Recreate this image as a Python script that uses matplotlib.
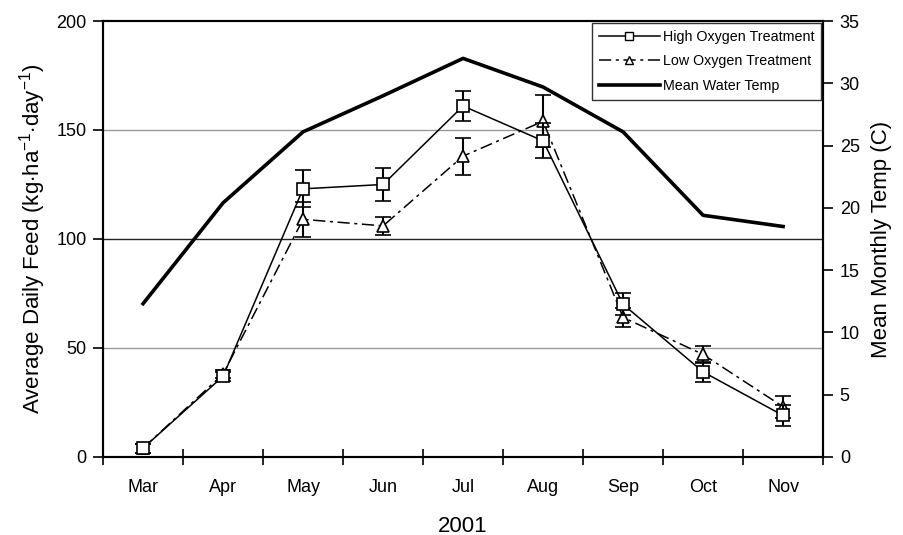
import numpy as np
import matplotlib.pyplot as plt
from matplotlib.lines import Line2D

plt.rcParams['font.family'] = ['Liberation Sans', 'DejaVu Sans']
plt.rcParams['mathtext.fontset'] = 'custom'
plt.rcParams['mathtext.rm'] = 'Liberation Sans'

months = ["Mar", "Apr", "May", "Jun", "Jul", "Aug", "Sep", "Oct", "Nov"]
high_o2 = [4, 37, 123, 125, 161, 145, 70, 39, 19]
high_err = [2, 2, 8.5, 7.5, 7, 8, 5, 4.5, 5]
low_o2 = [4, 38, 109, 106, 138, 154, 64, 47, 23]
low_err = [2, 2, 8, 4, 8.5, 12, 4.5, 4, 5]
water_temp = [12.3, 20.4, 26.1, 29.0, 32.0, 29.7, 26.1, 19.4, 18.5]

x = np.arange(len(months))
dashdot = (0, (8, 3, 2, 3))

fig = plt.figure(figsize=(9.04, 5.35), dpi=100)
ax = fig.add_axes([0.114, 0.146, 0.7965, 0.8147])
ax2 = ax.twinx()

# gridlines
for g, c in [(50, "#999999"), (100, "#222222"), (150, "#999999")]:
    ax.axhline(g, color=c, lw=1, zorder=0)

ax.errorbar(x, high_o2, yerr=high_err, color="black", lw=1.1, marker="s",
            ms=8, mfc="white", mec="black", mew=1.2, capsize=6,
            elinewidth=1.5, capthick=1.5, zorder=4)
ax.errorbar(x, low_o2, yerr=low_err, color="black", lw=1.1, marker="^",
            ms=8, mfc="white", mec="black", mew=1.2, capsize=6,
            elinewidth=1.5, capthick=1.5, ls=dashdot, zorder=3)
ax2.plot(x, water_temp, color="black", lw=2.6)

ax.set_xlim(-0.5, len(months) - 0.5)
ax.set_ylim(0, 200)
ax.set_yticks([0, 50, 100, 150, 200])
ax2.set_ylim(0, 35)
ax2.set_yticks(range(0, 36, 5))

ax.set_xticks(x)
ax.set_xticklabels(months)
ax.set_xticks(np.arange(-0.5, len(months), 1), minor=True)
ax.tick_params(axis="x", which="major", length=0, pad=16, labelsize=13)
ax.tick_params(axis="x", which="minor", length=12, direction="inout", width=1.2)
ax.tick_params(axis="y", length=7, direction="out", width=1.2, labelsize=13, pad=5)
ax2.tick_params(axis="y", length=7, direction="out", width=1.2, labelsize=13, pad=5)

for sp in list(ax.spines.values()) + list(ax2.spines.values()):
    sp.set_linewidth(1.5)

ax.set_xlabel("2001", fontsize=16, labelpad=14)
ax.set_ylabel(r"Average Daily Feed (kg$\cdot$ha$^{-1}$$\cdot$day$^{-1}$)", fontsize=16, labelpad=6)
ax2.set_ylabel("Mean Monthly Temp (C)", fontsize=16, labelpad=8)

handles = [
    Line2D([], [], color="black", lw=1.1, marker="s", ms=6, mfc="white", mec="black"),
    Line2D([], [], color="black", lw=1.1, marker="^", ms=6, mfc="white", mec="black", ls=dashdot),
    Line2D([], [], color="black", lw=2.6),
]
labels = ["High Oxygen Treatment", "Low Oxygen Treatment", "Mean Water Temp"]
leg = ax2.legend(handles, labels, loc="upper right", fontsize=10.3, frameon=True,
                 fancybox=False, edgecolor="black", borderaxespad=0.15,
                 handlelength=4.3, labelspacing=0.75, borderpad=0.45,
                 handletextpad=0.2)
leg.get_frame().set_linewidth(1)

fig.savefig("out.png", dpi=100)
